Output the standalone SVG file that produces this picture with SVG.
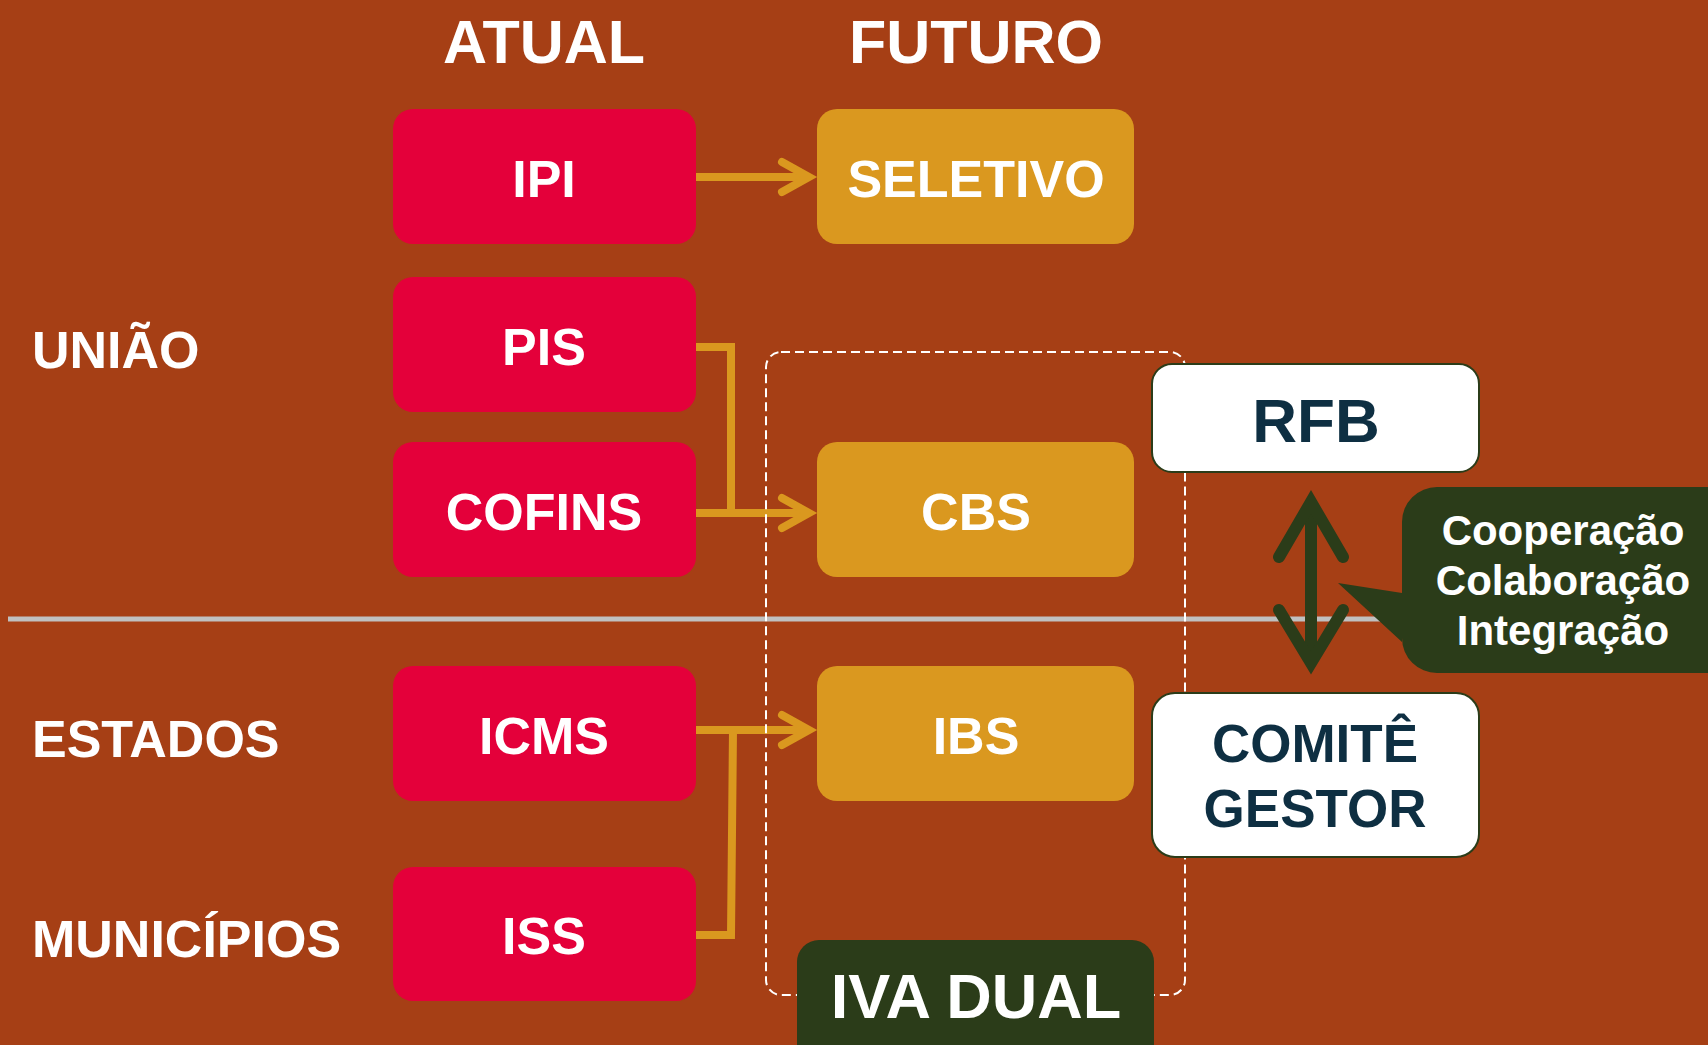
<svg xmlns="http://www.w3.org/2000/svg" width="1708" height="1045" viewBox="0 0 1708 1045">
<defs>
<style>
text{font-family:"Liberation Sans",Arial,sans-serif;font-weight:bold;text-anchor:middle}
.w{fill:#FFFFFF}
.lbl{font-size:52px}
.red{fill:#E4003A}
.gold{fill:#DA981F}
.wbox{fill:#FFFFFF;stroke:#2B3C19;stroke-width:2}
.navy{fill:#0E2F42}
.conn{fill:none;stroke:#DA981F;stroke-width:8}
.head{fill:none;stroke:#DA981F;stroke-width:8;stroke-linecap:round;stroke-linejoin:miter}
.dg{fill:none;stroke:#2B3C19;stroke-width:12;stroke-linecap:round}
</style>
</defs>
<rect x="0" y="0" width="1708" height="1045" fill="#A63F15"/>
<line x1="8" y1="619" x2="1420" y2="619" stroke="#C0C0C0" stroke-width="5"/>

<g id="headers">
<text class="w" x="544" y="63" font-size="61">ATUAL</text>
<text class="w" x="976" y="63" font-size="61">FUTURO</text>
</g>
<g id="levels">
<text class="w lbl" x="32" y="368" style="text-anchor:start">UNIÃO</text>
<text class="w lbl" x="32" y="757" style="text-anchor:start">ESTADOS</text>
<text class="w lbl" x="32" y="957" style="text-anchor:start">MUNICÍPIOS</text>
</g>

<g id="node-ipi"><rect class="red" x="393" y="109" width="303" height="135" rx="20"/><text class="w lbl" x="544" y="197">IPI</text></g>
<g id="node-pis"><rect class="red" x="393" y="277" width="303" height="135" rx="20"/><text class="w lbl" x="544" y="365">PIS</text></g>
<g id="node-cofins"><rect class="red" x="393" y="442" width="303" height="135" rx="20"/><text class="w lbl" x="544" y="530">COFINS</text></g>
<g id="node-icms"><rect class="red" x="393" y="666" width="303" height="135" rx="20"/><text class="w lbl" x="544" y="754">ICMS</text></g>
<g id="node-iss"><rect class="red" x="393" y="867" width="303" height="134" rx="20"/><text class="w lbl" x="544" y="954">ISS</text></g>

<g id="node-seletivo"><rect class="gold" x="817" y="109" width="317" height="135" rx="20"/><text class="w lbl" x="976" y="197">SELETIVO</text></g>
<g id="node-cbs"><rect class="gold" x="817" y="442" width="317" height="135" rx="20"/><text class="w lbl" x="976" y="530">CBS</text></g>
<g id="node-ibs"><rect class="gold" x="817" y="666" width="317" height="135" rx="20"/><text class="w lbl" x="976" y="754">IBS</text></g>

<g id="connectors">
<line class="conn" x1="696" y1="177" x2="806" y2="177"/>
<polyline class="head" points="782,162 809,177 782,192"/>
<polyline class="conn" points="696,347 731,347 731,513"/>
<line class="conn" x1="696" y1="513" x2="806" y2="513"/>
<polyline class="head" points="782,498 809,513 782,528"/>
<line class="conn" x1="696" y1="730" x2="806" y2="730"/>
<polyline class="head" points="782,715 809,730 782,745"/>
<polyline class="conn" points="696,935 731,935 733,730"/>
<line class="dg" x1="1311" y1="505" x2="1311" y2="660"/>
<polyline class="dg" points="1279,557 1311,502 1343,557" stroke-linejoin="miter"/>
<polyline class="dg" points="1279,610 1311,663 1343,610" stroke-linejoin="miter"/>
</g>

<g id="group-iva">
<rect x="766" y="352" width="419" height="643" rx="15" fill="none" stroke="#FFFFFF" stroke-width="2" stroke-dasharray="9 5"/>
</g>

<g id="node-rfb"><rect class="wbox" x="1152" y="364" width="327" height="108" rx="20"/><text class="navy" x="1316" y="442" font-size="62">RFB</text></g>
<g id="node-comite"><rect class="wbox" x="1152" y="693" width="327" height="164" rx="23"/><text class="navy" x="1315" y="762" font-size="53">COMITÊ</text><text class="navy" x="1315" y="827" font-size="53">GESTOR</text></g>

<g id="node-iva-dual"><rect x="797" y="940" width="357" height="130" rx="22" fill="#2B3C19"/><text class="w" x="976" y="1018" font-size="63">IVA DUAL</text></g>

<g id="callout">
<path d="M1437,487 H1740 V673 H1437 A35,35 0 0 1 1402,638 V642 L1338,583 L1402,593 V522 A35,35 0 0 1 1437,487 Z" fill="#2B3C19"/>
<text class="w" x="1563" y="545" font-size="42">Cooperação</text>
<text class="w" x="1563" y="595" font-size="42">Colaboração</text>
<text class="w" x="1563" y="645" font-size="42">Integração</text>
</g>
</svg>
